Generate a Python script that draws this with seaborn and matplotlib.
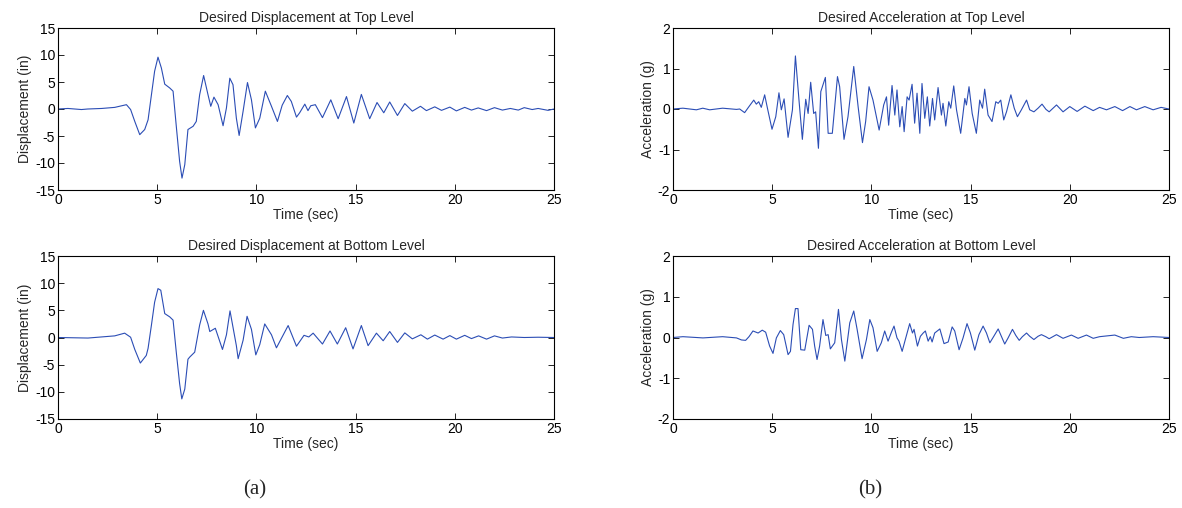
import numpy as np
import pandas as pd
import matplotlib
matplotlib.use("Agg")
import matplotlib.pyplot as plt
import seaborn as sns

# ---- data ----
disp_top_t = [0, 0.5, 1.18, 1.5, 2.2, 2.86, 3.45, 3.66, 3.87, 4.12, 4.37, 4.54, 4.71, 4.87, 5.04, 5.21,
              5.38, 5.63, 5.8, 5.97, 6.13, 6.25, 6.39, 6.55, 6.81, 6.97, 7.14, 7.34, 7.56, 7.7, 7.86,
              8.07, 8.32, 8.49, 8.66, 8.82, 8.99, 9.13, 9.33, 9.55, 9.75, 9.95, 10.17, 10.45, 10.76,
              11.06, 11.3, 11.56, 11.76, 12.02, 12.18,
              12.44, 12.6, 12.74, 12.97, 13.33, 13.75, 14.12, 14.54, 14.91, 15.29, 15.71, 16.08, 16.42,
              16.72, 17.11, 17.48, 17.86, 18.27, 18.57, 18.99, 19.33, 19.75, 20.08, 20.5, 20.84, 21.18, 21.6,
              22.0, 22.4, 22.8, 23.2, 23.5, 23.9, 24.2, 24.7, 25.0]
disp_top_v = [0, 0.1, -0.1, 0.0, 0.1, 0.3, 0.8, -0.1, -2.3, -4.75, -3.8, -2.0, 2.65, 7.0, 9.6, 7.6,
              4.6, 3.9, 3.3, -3.5, -9.7, -12.8, -10.3, -3.8, -3.2, -2.3, 2.65, 6.2, 2.65, 0.5, 2.2,
              0.8, -3.1, 0.2, 5.7, 4.5, -1.7, -4.9, -0.4, 4.9, 1.7, -3.5, -1.7, 3.3, 0.5,
              -2.3, 0.7, 2.5, 1.4, -1.5, -0.7,
              0.9, -0.3, 0.6, 0.8, -1.6, 1.7, -1.8, 2.3, -2.6, 2.7, -1.8, 1.2, -0.7,
              1.3, -1.2, 1.0, -0.4, 0.5, -0.3, 0.4, -0.25, 0.35, -0.35, 0.3, -0.2, 0.2, -0.3,
              0.25, -0.2, 0.1, -0.2, 0.25, -0.1, 0.1, -0.25, 0.0]

disp_bot_t = [0, 1.51, 2.86, 3.36, 3.66, 3.87, 4.15, 4.45, 4.54, 4.71, 4.87, 5.04, 5.18, 5.38, 5.63, 5.8,
              5.97, 6.13, 6.24, 6.39, 6.55, 6.64, 6.89, 7.14, 7.33, 7.56, 7.65, 7.93, 8.29, 8.49, 8.67,
              8.99, 9.08, 9.33, 9.53, 9.75, 9.97, 10.17, 10.42, 10.76, 11.01, 11.6, 12.02, 12.4, 12.64,
              12.86, 13.33, 13.71, 14.08, 14.5, 14.87, 15.29, 15.63, 16.05, 16.39, 16.72, 17.11, 17.48,
              17.86, 18.29, 18.62, 18.99, 19.41, 19.75, 20.08, 20.5, 20.84, 21.2, 21.6, 22.0, 22.4, 22.86,
              23.5, 24.2, 25.0]
disp_bot_v = [0, -0.1, 0.3, 0.8, 0.05, -2.2, -4.7, -3.3, -2.0, 2.3, 6.5, 9.0, 8.7, 4.4, 3.8, 3.2,
              -3.0, -8.5, -11.3, -9.5, -4.0, -3.6, -2.7, 2.3, 5.0, 2.5, 1.1, 1.7, -2.2, 0.5, 4.9,
              -1.5, -3.9, -0.5, 3.9, 1.5, -3.2, -1.3, 2.5, 0.5, -1.9, 2.2, -1.6, 0.4, 0.1,
              0.8, -1.2, 1.2, -1.2, 1.8, -2.1, 2.2, -1.5, 0.8, -0.6, 1.1, -0.9, 0.85,
              -0.25, 0.5, -0.3, 0.45, -0.3, 0.35, -0.3, 0.4, -0.2, 0.3, -0.3, 0.3, -0.1, 0.1,
              0.0, 0.05, 0.0]

acc_top_t = [0, 0.5, 1.18, 1.5, 1.85, 2.5, 3.2, 3.36, 3.61, 3.83, 4.07, 4.2, 4.32, 4.45, 4.62, 4.76, 4.99,
             5.18, 5.34, 5.46, 5.6, 5.8, 6.02, 6.17, 6.35, 6.52, 6.69, 6.81, 6.94, 7.09, 7.19, 7.33, 7.45,
             7.68, 7.82, 8.03, 8.29, 8.4, 8.62, 8.82, 9.11, 9.33, 9.55, 9.71, 9.88, 10.08, 10.39, 10.62,
             10.76, 10.87, 11.04, 11.18, 11.29, 11.43, 11.55, 11.65, 11.8, 11.9, 12.05, 12.18, 12.3, 12.44,
             12.55, 12.69, 12.82, 12.94, 13.08, 13.19, 13.36, 13.53, 13.61, 13.75, 13.9, 14.0, 14.15, 14.29,
             14.5, 14.71, 14.79, 14.92, 15.08, 15.29, 15.46, 15.6, 15.71, 15.88, 16.08, 16.27, 16.39, 16.52,
             16.67, 16.81, 17.03, 17.2, 17.36, 17.56, 17.82, 17.98, 18.19, 18.4, 18.6, 18.8, 18.96, 19.33,
             19.66, 20.0, 20.37, 20.76, 21.18, 21.5, 21.85, 22.27, 22.66, 23.03, 23.36, 23.78, 24.2, 24.6, 25.0]
acc_top_v = [0, 0.02, -0.02, 0.02, -0.02, 0.02, -0.01, 0.0, -0.09, 0.06, 0.22, 0.12, 0.18, 0.04, 0.35, 0.02, -0.5,
             -0.19, 0.4, -0.02, 0.25, -0.7, -0.02, 1.31, 0.22, -0.75, 0.24, -0.11, 0.66, -0.11, -0.07, -0.97, 0.43,
             0.78, -0.6, -0.6, 0.8, 0.55, -0.75, -0.19, 1.05, 0.06, -0.83, -0.31, 0.55, 0.22, -0.52, 0.1,
             0.3, -0.4, 0.58, -0.15, 0.47, -0.44, 0.06, -0.56, 0.3, 0.22, 0.61, -0.35, 0.39, -0.6,
             0.63, -0.23, 0.3, -0.42, 0.26, -0.27, 0.53, -0.15, 0.14, -0.42, 0.18, 0.02, 0.57, -0.02,
             -0.6, 0.26, 0.1, 0.55, -0.11, -0.6, 0.22, 0.02, 0.49, -0.15, -0.31, 0.18, 0.14, 0.22,
             -0.27, -0.07, 0.35, 0.02, -0.19, -0.02, 0.22, -0.02, -0.07, 0.02, 0.12, -0.01, -0.07, 0.1,
             -0.07, 0.06, -0.06, 0.07, -0.04, 0.04, -0.02, 0.06, -0.04, 0.06, -0.02, 0.06, -0.02, 0.04, 0.0]

acc_bot_t = [0, 0.5, 1.51, 2.5, 3.2, 3.45, 3.66, 3.83, 4.03, 4.29, 4.5, 4.67, 4.87, 5.04, 5.21, 5.41, 5.58,
             5.8, 5.92, 6.05, 6.17, 6.3, 6.44, 6.64, 6.86, 7.03, 7.14, 7.26, 7.39, 7.56, 7.7, 7.82, 7.93,
             8.15, 8.34, 8.49, 8.66, 8.91, 9.11, 9.28, 9.53, 9.75, 9.92, 10.08, 10.29, 10.5, 10.67, 10.84,
             11.01, 11.14, 11.29, 11.39, 11.55, 11.71, 11.93, 12.07, 12.15, 12.32, 12.47, 12.61, 12.72,
             12.86, 12.97, 13.06, 13.19, 13.45, 13.66, 13.87, 14.07, 14.2, 14.42, 14.62, 14.82, 14.99,
             15.21, 15.42, 15.63, 15.8, 15.97, 16.17, 16.39, 16.55, 16.72, 16.89, 17.11, 17.28, 17.45,
             17.61, 17.82, 17.98, 18.19, 18.4, 18.57, 18.79, 18.96, 19.33, 19.66, 20.08, 20.42, 20.84,
             21.18, 21.5, 22.27, 22.7, 23.1, 23.5, 24.2, 25.0]
acc_bot_v = [0, 0.02, -0.01, 0.02, -0.01, -0.06, -0.07, 0.02, 0.16, 0.11, 0.18, 0.13, -0.21, -0.39, -0.01, 0.17, 0.07,
             -0.42, -0.34, 0.32, 0.71, 0.71, -0.3, -0.31, 0.3, 0.2, -0.21, -0.54, -0.21, 0.44, 0.05, 0.07, -0.28,
             -0.13, 0.69, -0.05, -0.58, 0.36, 0.65, 0.2, -0.52, -0.05, 0.44, 0.24, -0.34, -0.13, 0.16, -0.09,
             0.13, 0.28, -0.01, -0.09, -0.34, -0.05, 0.34, 0.11, 0.2, -0.21, 0.03, 0.11, 0.16,
             -0.09, 0.02, -0.11, 0.11, 0.21, -0.15, -0.11, 0.26, 0.16, -0.3, -0.01, 0.34, 0.11,
             -0.31, 0.07, 0.28, 0.11, -0.13, 0.03, 0.21, 0.03, -0.16, -0.01, 0.2, 0.05, -0.07,
             0.02, 0.11, 0.03, -0.05, 0.03, 0.07, 0.02, -0.03, 0.07, -0.02, 0.06, -0.02, 0.06,
             -0.02, 0.02, 0.06, -0.02, 0.02, 0.0, 0.02, 0.0]

titles = ["Desired Displacement at Top Level", "Desired Acceleration at Top Level",
          "Desired Displacement at Bottom Level", "Desired Acceleration at Bottom Level"]
ylabels = ["Displacement (in)", "Acceleration (g)"]
xlabel = "Time (sec)"
x_ticks = [0, 5, 10, 15, 20, 25]
disp_ticks = [-15, -10, -5, 0, 5, 10, 15]
acc_ticks = [-2, -1, 0, 1, 2]
panel_labels = ["(a)", "(b)"]

# ---- styling ----
sns.set_theme(style="ticks")
plt.rcParams['font.family'] = ['Liberation Sans', 'DejaVu Sans']
plt.rcParams['font.size'] = 10
plt.rcParams['axes.linewidth'] = 0.8
plt.rcParams['axes.unicode_minus'] = False

LINE = '#2B4DB5'
fig = plt.figure(figsize=(11.82, 5.08), dpi=100)

boxes = [
    (58/1182, 1-190/508, (554-58)/1182, (190-28)/508),
    (673/1182, 1-190/508, (1169-673)/1182, (190-28)/508),
    (58/1182, 1-419/508, (554-58)/1182, (419-256)/508),
    (673/1182, 1-419/508, (1169-673)/1182, (419-256)/508),
]
series = [(disp_top_t, disp_top_v), (acc_top_t, acc_top_v),
          (disp_bot_t, disp_bot_v), (acc_bot_t, acc_bot_v)]

for i, (box, (t, v)) in enumerate(zip(boxes, series)):
    ax = fig.add_axes(box)
    df = pd.DataFrame({"t": t, "v": v})
    sns.lineplot(data=df, x="t", y="v", ax=ax, color=LINE, linewidth=0.8,
                 estimator=None, sort=False)
    is_disp = (i % 2 == 0)
    ax.set_xlim(0, 25)
    ax.set_xticks(x_ticks)
    if is_disp:
        ax.set_ylim(-15, 15)
        ax.set_yticks(disp_ticks)
        ax.set_ylabel(ylabels[0], fontsize=10, labelpad=2)
    else:
        ax.set_ylim(-2, 2)
        ax.set_yticks(acc_ticks)
        ax.set_ylabel(ylabels[1], fontsize=10, labelpad=2)
    ax.set_xlabel(xlabel, fontsize=10, labelpad=1)
    ax.set_title(titles[i], fontsize=10, pad=4)
    ax.tick_params(direction='in', top=True, right=True, length=4, width=0.6,
                   labelsize=10, pad=2, colors='black')
    for s in ax.spines.values():
        s.set_visible(True)
        s.set_color('black')
        s.set_linewidth(0.8)

fig.text(255/1182, 1-490/508, panel_labels[0], ha='center', va='center',
         fontsize=15, family=['Liberation Serif', 'DejaVu Serif'])
fig.text(870/1182, 1-490/508, panel_labels[1], ha='center', va='center',
         fontsize=15, family=['Liberation Serif', 'DejaVu Serif'])

fig.savefig("out.png", dpi=100, facecolor='white')
